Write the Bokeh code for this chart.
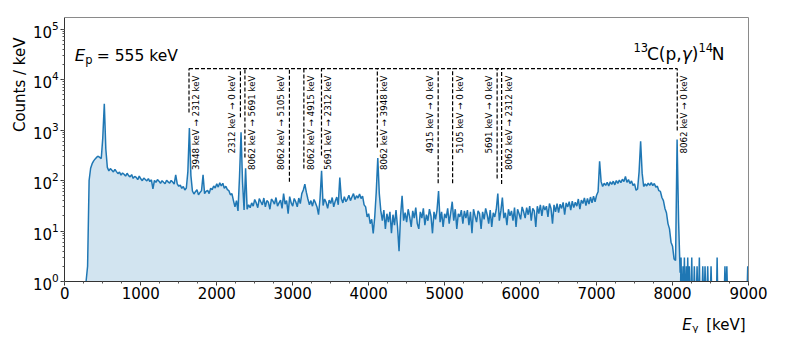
import numpy as np
from bokeh.plotting import figure
from bokeh.models import Range1d, FixedTicker, LogTicker, Label, ColumnDataSource
from bokeh.core.properties import value
from bokeh.embed import file_html
from bokeh.resources import INLINE

# ---------------- data (counts per keV, 20 keV bins) ----------------
BIN_KEV = 20
seg_0280 = [0, 2, 100, 175, 215, 245, 268, 290, 302, 288,
            272, 700, 3300, 420, 182, 155, 172, 160, 148, 166,
            150, 137, 147, 128, 141, 133, 122, 139, 125, 118,
            131, 110, 121, 115, 104, 122, 108, 99, 112, 105,
            98, 109, 95, 103, 68, 100, 92, 104, 97, 88]
seg_1280 = [99, 92, 86, 101, 94, 89, 100, 93, 85, 130,
            86, 77, 81, 70, 76, 65, 71, 150, 1100, 125,
            62, 54, 60, 66, 52, 58, 63, 130, 55, 61,
            64, 55, 70, 66, 78, 71, 86, 74, 90, 78,
            88, 70, 77, 66, 63, 52, 55, 40, 30, 40]
seg_2280 = [25, 120, 900, 90, 26, 175, 27, 33, 29, 36,
            31, 42, 36, 29, 44, 38, 33, 45, 30, 40,
            37, 27, 43, 39, 34, 46, 31, 36, 41, 28,
            55, 34, 40, 22, 48, 36, 31, 44, 38, 30,
            45, 35, 55, 65, 85, 58, 43, 33, 40, 31]
seg_3280 = [42, 36, 30, 21, 44, 155, 32, 43, 37, 28,
            41, 35, 46, 30, 39, 47, 33, 115, 44, 36,
            48, 38, 43, 51, 40, 47, 55, 42, 50, 45,
            54, 44, 49, 33, 30, 19, 22, 14, 17, 9,
            19, 60, 280, 55, 25, 16, 26, 11, 22, 15]
seg_4280 = [24, 9, 21, 13, 26, 12, 4, 20, 50, 16,
            23, 15, 27, 19, 12, 25, 18, 29, 14, 11,
            24, 18, 28, 13, 21, 16, 27, 20, 9, 24,
            17, 26, 62, 15, 24, 12, 22, 18, 28, 14,
            23, 38, 16, 27, 11, 22, 19, 26, 14, 25]
seg_5280 = [18, 26, 13, 24, 9, 27, 20, 15, 25, 22,
            11, 24, 17, 28, 21, 14, 26, 12, 23, 19,
            27, 55, 16, 25, 46, 18, 23, 13, 27, 20,
            25, 16, 29, 12, 27, 22, 17, 30, 24, 18,
            29, 21, 31, 16, 28, 25, 12, 31, 22, 33]
seg_6280 = [20, 32, 26, 31, 19, 35, 28, 14, 33, 24,
            35, 23, 34, 28, 37, 21, 36, 30, 38, 26,
            39, 29, 37, 31, 43, 27, 41, 35, 45, 32,
            44, 34, 47, 36, 49, 38, 51, 60, 240, 95,
            76, 88, 80, 92, 78, 94, 84, 97, 82, 100]
seg_7280 = [88, 102, 91, 106, 95, 120, 92, 104, 87, 98,
            80, 86, 64, 68, 150, 600, 140, 76, 86, 78,
            89, 80, 91, 79, 87, 74, 77, 63, 61, 46,
            40, 28, 23, 14, 11, 6, 5, 2.8, 2.6, 650,
            15, 1.5]
segments = [(280, seg_0280), (1280, seg_1280), (2280, seg_2280), (3280, seg_3280),
            (4280, seg_4280), (5280, seg_5280), (6280, seg_6280), (7280, seg_7280)]

# sparse single-count spikes above the endpoint
tail_spike_keV = [8112, 8138, 8156, 8182, 8200, 8221, 8253, 8287, 8323, 8353,
                  8398, 8428, 8463, 8507, 8587, 8690, 8715, 8990]
tail_spike_counts = [3, 2, 3, 2, 3, 2, 3, 2, 2, 3, 2, 2, 2, 2, 3, 2, 2, 2]

# transitions
trans_keV = [1635, 2312, 2371, 2957, 3147, 3379, 4114, 4915, 5105, 5691, 5750, 8062]
trans_text = ["3948 keV \u2192 2312 keV", "2312 keV \u2192 0 keV", "8062 keV \u2192 5691 keV",
              "8062 keV \u2192 5105 keV", "8062 keV \u2192 4915 keV", "5691 keV \u2192 2312 keV",
              "8062 keV \u2192 3948 keV", "4915 keV \u2192 0 keV", "5105 keV \u2192 0 keV",
              "5691 keV \u2192 0 keV", "8062 keV \u2192 2312 keV", "8062 keV \u2192 0 keV"]
trans_marker_low = [2230, 1780, 285, 95, 173, 313, 450, 88, 88, 110, 85, 980]
trans_side = [1, -1, 1, -1, 1, 1, 1, -1, 1, -1, 1, 1]
marker_top = 16500
label_top = 12000

x_ticks = [0, 1000, 2000, 3000, 4000, 5000, 6000, 7000, 8000, 9000]
X_MIN, X_MAX = 0, 9000
Y_MIN, Y_MAX = 1.0, 10 ** 5.228

# ---------------- layout (pixels) ----------------
W, H = 769, 333
BOX_L, BOX_R, BOX_T, BOX_B = 64.3, 748.0, 17.0, 281.0
kx = (BOX_R - BOX_L) / (X_MAX - X_MIN)
PX_DECADE = (BOX_B - BOX_T) / np.log10(Y_MAX / Y_MIN)
x_start = X_MIN - BOX_L / kx
x_end = X_MIN + (W - BOX_L) / kx
y_start = Y_MIN * 10 ** (-(H - BOX_B) / PX_DECADE)
y_end = Y_MIN * 10 ** (BOX_B / PX_DECADE)

# ---------------- assemble ----------------
energy = np.concatenate([s + BIN_KEV * np.arange(len(c)) for s, c in segments]).astype(float)
counts = np.concatenate([np.asarray(c, float) for _, c in segments])
main_y = np.maximum(counts, Y_MIN)
lx, ly = list(energy), list(main_y)
for e, c in zip(tail_spike_keV, tail_spike_counts):
    lx += [np.nan, e - 5, e, e + 5]
    ly += [np.nan, Y_MIN, c, Y_MIN]

FONT = "DejaVu Sans"
p = figure(width=W, height=H, x_range=Range1d(x_start, x_end), y_range=Range1d(y_start, y_end),
           y_axis_type="log", output_backend="svg", toolbar_location=None,
           min_border_left=0, min_border_right=0, min_border_top=0, min_border_bottom=0)
p.grid.visible = False
p.outline_line_color = None
p.background_fill_color = "white"
p.border_fill_color = "white"

p.varea(x=energy, y1=np.full(len(energy), Y_MIN), y2=main_y, fill_color="#1f77b4", fill_alpha=0.2)
p.line(x=lx, y=ly, line_color="#1f77b4", line_width=1.5)

# box top/right edges
p.line(x=[X_MIN, X_MAX, X_MAX], y=[Y_MAX, Y_MAX, Y_MIN], line_color="#8a8a8a", line_width=1)

# transition markers
p.segment(x0=trans_keV, y0=trans_marker_low, x1=trans_keV, y1=[marker_top] * len(trans_keV),
          line_color="black", line_dash="4 2", line_width=1.2)
p.segment(x0=[min(trans_keV)], y0=[marker_top], x1=[max(trans_keV)], y1=[marker_top],
          line_color="black", line_dash="4 2", line_width=1.2)
tsrc = ColumnDataSource(dict(x=trans_keV, y=[label_top] * len(trans_keV), t=trans_text,
                             dx=[7 if s > 0 else -8 for s in trans_side]))
p.text(x="x", y="y", text="t", source=tsrc, x_offset="dx", angle=np.pi / 2,
       text_align="right", text_baseline="middle", text_font=value(FONT),
       text_font_size="8.7px", text_color="black")

# axes (drawn at the box edges)
xa = p.xaxis[0]
xa.ticker = FixedTicker(ticks=x_ticks, minor_ticks=list(range(0, 9001, 250)))
xa.fixed_location = Y_MIN
xa.bounds = (X_MIN, X_MAX)
ya = p.yaxis[0]
ya.ticker = LogTicker(num_minor_ticks=10)
ya.fixed_location = X_MIN
ya.bounds = (Y_MIN, Y_MAX)
for ax in (xa, ya):
    ax.axis_line_color = "#333333"
    ax.major_tick_line_color = "#333333"
    ax.minor_tick_line_color = "#555555"
    ax.major_tick_in = 0
    ax.major_tick_out = 4
    ax.minor_tick_in = 0
    ax.minor_tick_out = 2
    ax.major_label_text_font = FONT
    ax.major_label_text_font_size = "15px"
    ax.major_label_text_color = "black"
xa.major_label_standoff = 1
ya.major_label_standoff = 2


def lab(x, y, text, dx, dy, size, style="normal", align="left", angle=0.0, baseline="alphabetic"):
    p.add_layout(Label(x=x, y=y, x_offset=dx, y_offset=dy, text=text, text_font=FONT,
                       text_font_size=size, text_font_style=style, text_align=align,
                       text_baseline=baseline, angle=angle, text_color="black"))


# E_p = 555 keV
lab(X_MIN, Y_MAX, "E", 10, -38, "16.5px", style="italic")
lab(X_MIN, Y_MAX, "p", 20.5, -42, "11.5px")
lab(X_MIN, Y_MAX, "= 555 keV", 32, -38, "15.5px")
# 13C(p,gamma)14N
lab(X_MAX, Y_MAX, "13", -115, -29.7, "11.5px")
lab(X_MAX, Y_MAX, "C(p,", -101.5, -36.3, "17px")
lab(X_MAX, Y_MAX, "\u03b3", -66.8, -36.3, "17px", style="italic")
lab(X_MAX, Y_MAX, ")", -56.7, -36.3, "17px")
lab(X_MAX, Y_MAX, "14", -50.1, -29.7, "11.5px")
lab(X_MAX, Y_MAX, "N", -36.7, -36.3, "17px")
# x label
lab(X_MAX, Y_MIN, "E", -66.3, -43, "15px", style="italic")
lab(X_MAX, Y_MIN, "\u03b3", -56.3, -46, "10.5px")
lab(X_MAX, Y_MIN, "[keV]", -3, -43, "15px", align="right")
# y label
lab(X_MIN, Y_MAX, "Counts / keV", -45, -20, "15px", align="right", angle=np.pi / 2, baseline="middle")

open("out.html", "w").write(file_html(p, INLINE))
